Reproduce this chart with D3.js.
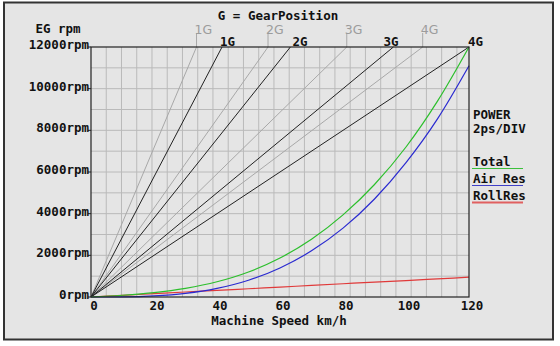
<!DOCTYPE html>
<html><head><meta charset="utf-8">
<script src="https://cdn.jsdelivr.net/npm/d3@7"></script>
<style>body{margin:0;background:#fff}svg{display:block}</style>
</head><body><svg id="c" width="560" height="346"></svg>
<script>
// ---- data ----
const xTicks = [0, 20, 40, 60, 80, 100, 120];
const yTicks = [0, 2000, 4000, 6000, 8000, 10000, 12000];
const gearLabels = ["1G", "2G", "3G", "4G"];
const gearTopSpeed = [41.6, 63.3, 96.0, 120];      // km/h at 12000 rpm (black)
const gearTopSpeedAlt = [33.5, 56.2, 81.2, 105.3]; // km/h at 12000 rpm (gray)
const speeds = [0, 10, 20, 30, 40, 50, 60, 70, 80, 90, 100, 110, 120];
const powerAir = [0, 0.01, 0.10, 0.35, 0.83, 1.61, 2.79, 4.43, 6.61, 9.41, 12.9, 17.1, 22.2];
const powerRoll = [0, 0.16, 0.32, 0.48, 0.63, 0.79, 0.95, 1.11, 1.27, 1.43, 1.58, 1.74, 1.90];
const powerTotal = [0, 0.17, 0.42, 0.83, 1.46, 2.40, 3.74, 5.54, 7.88, 10.8, 14.4, 18.8, 24.0];
const legendNames = ["Total", "Air Res", "RollRes"];

// ---- layout ----
const svg = d3.select("#c");
const L = 91, R = 469, T = 47, B = 297;
const mono = "'DejaVu Sans Mono', monospace";
const x = d3.scaleLinear().domain([0, 120]).range([L, R]);
const y = d3.scaleLinear().domain([0, 12000]).range([B, T]);
const yPow = d3.scaleLinear().domain([0, 24]).range([B, T]); // 2ps per 1000rpm div
const xGridStep = 4.84;

svg.append("rect").attr("x", 4).attr("y", 2.5).attr("width", 549).attr("height", 337)
  .attr("fill", "#e5e5e5").attr("stroke", "#333").attr("stroke-width", 2);

// grid
const g = svg.append("g");
const vGrid = d3.range(1, 25).map(k => k * xGridStep);
g.selectAll(".vg").data(vGrid).join("line")
  .attr("x1", d => x(d)).attr("x2", d => x(d)).attr("y1", T).attr("y2", B)
  .attr("stroke", "#bababa").attr("stroke-width", 1);
g.selectAll(".hg").data(d3.range(1000, 12000, 1000)).join("line")
  .attr("x1", L).attr("x2", R).attr("y1", d => y(d)).attr("y2", d => y(d))
  .attr("stroke", "#bababa").attr("stroke-width", 1);

// gray gear lines
gearTopSpeedAlt.forEach((v, i) => {
  svg.append("line").attr("x1", x(0)).attr("y1", y(0)).attr("x2", x(v)).attr("y2", y(12000))
    .attr("stroke", "#a8a8a8").attr("stroke-width", 1);
  svg.append("line").attr("x1", x(v)).attr("y1", y(12000)).attr("x2", x(v)).attr("y2", 33)
    .attr("stroke", "#a8a8a8").attr("stroke-width", 1);
  svg.append("text").attr("x", x(v) - 2).attr("y", 34).text(gearLabels[i])
    .attr("font-family", "'DejaVu Sans', sans-serif").attr("font-size", 12.5).attr("fill", "#9c9c9c");
});

// black gear lines
const blackLabelDx = [-2, 2, -10, -1];
gearTopSpeed.forEach((v, i) => {
  svg.append("line").attr("x1", x(0)).attr("y1", y(0)).attr("x2", x(v)).attr("y2", y(12000))
    .attr("stroke", "#222").attr("stroke-width", 1);
  svg.append("text").attr("x", x(v) + blackLabelDx[i]).attr("y", 45.5).text(gearLabels[i])
    .attr("font-family", mono).attr("font-weight", "bold").attr("font-size", 12.5).attr("fill", "#111");
});

// power curves
const line = d3.line().x((d, i) => x(speeds[i])).y(d => yPow(d)).curve(d3.curveMonotoneX);
const series = [
  { vals: powerRoll, color: "#e03a3a" },
  { vals: powerAir, color: "#2a2ad0" },
  { vals: powerTotal, color: "#2cbf2c" }
];
series.forEach(s => {
  svg.append("path").attr("d", line(s.vals)).attr("fill", "none")
    .attr("stroke", s.color).attr("stroke-width", 1.2);
});

// frame
svg.append("rect").attr("x", L).attr("y", T).attr("width", R - L).attr("height", B - T)
  .attr("fill", "none").attr("stroke", "#222").attr("stroke-width", 1.2);

// axis labels
const txt = (sel) => sel.attr("font-family", mono).attr("font-weight", "bold")
  .attr("font-size", 12.5).attr("fill", "#111");
yTicks.forEach(t => {
  svg.append("line").attr("x1", L - 3).attr("x2", L).attr("y1", y(t)).attr("y2", y(t))
    .attr("stroke", "#222");
  txt(svg.append("text").attr("x", L - 2).attr("y", y(t) + 2).attr("text-anchor", "end")
    .text(t + "rpm"));
});
xTicks.forEach(t => {
  txt(svg.append("text").attr("x", x(t) + 3).attr("y", 310).attr("text-anchor", "middle").text(t));
});

txt(svg.append("text").attr("x", 58).attr("y", 33).attr("text-anchor", "middle").text("EG rpm"));
txt(svg.append("text").attr("x", 278).attr("y", 20).attr("text-anchor", "middle").text("G = GearPosition"));
txt(svg.append("text").attr("x", 279).attr("y", 325).attr("text-anchor", "middle").text("Machine Speed km/h"));
txt(svg.append("text").attr("x", 473).attr("y", 119).text("POWER"));
txt(svg.append("text").attr("x", 473).attr("y", 133).text("2ps/DIV"));

const legColors = ["#3cc03c", "#4040c8", "#e06060"];
legendNames.forEach((n, i) => {
  const yy = 166 + i * 17;
  txt(svg.append("text").attr("x", 473).attr("y", yy).text(n));
  svg.append("line").attr("x1", 472).attr("x2", 523).attr("y1", yy + 2.5).attr("y2", yy + 2.5)
    .attr("stroke", legColors[i]).attr("stroke-width", i === 2 ? 2 : 1.2);
});
</script></body></html>
